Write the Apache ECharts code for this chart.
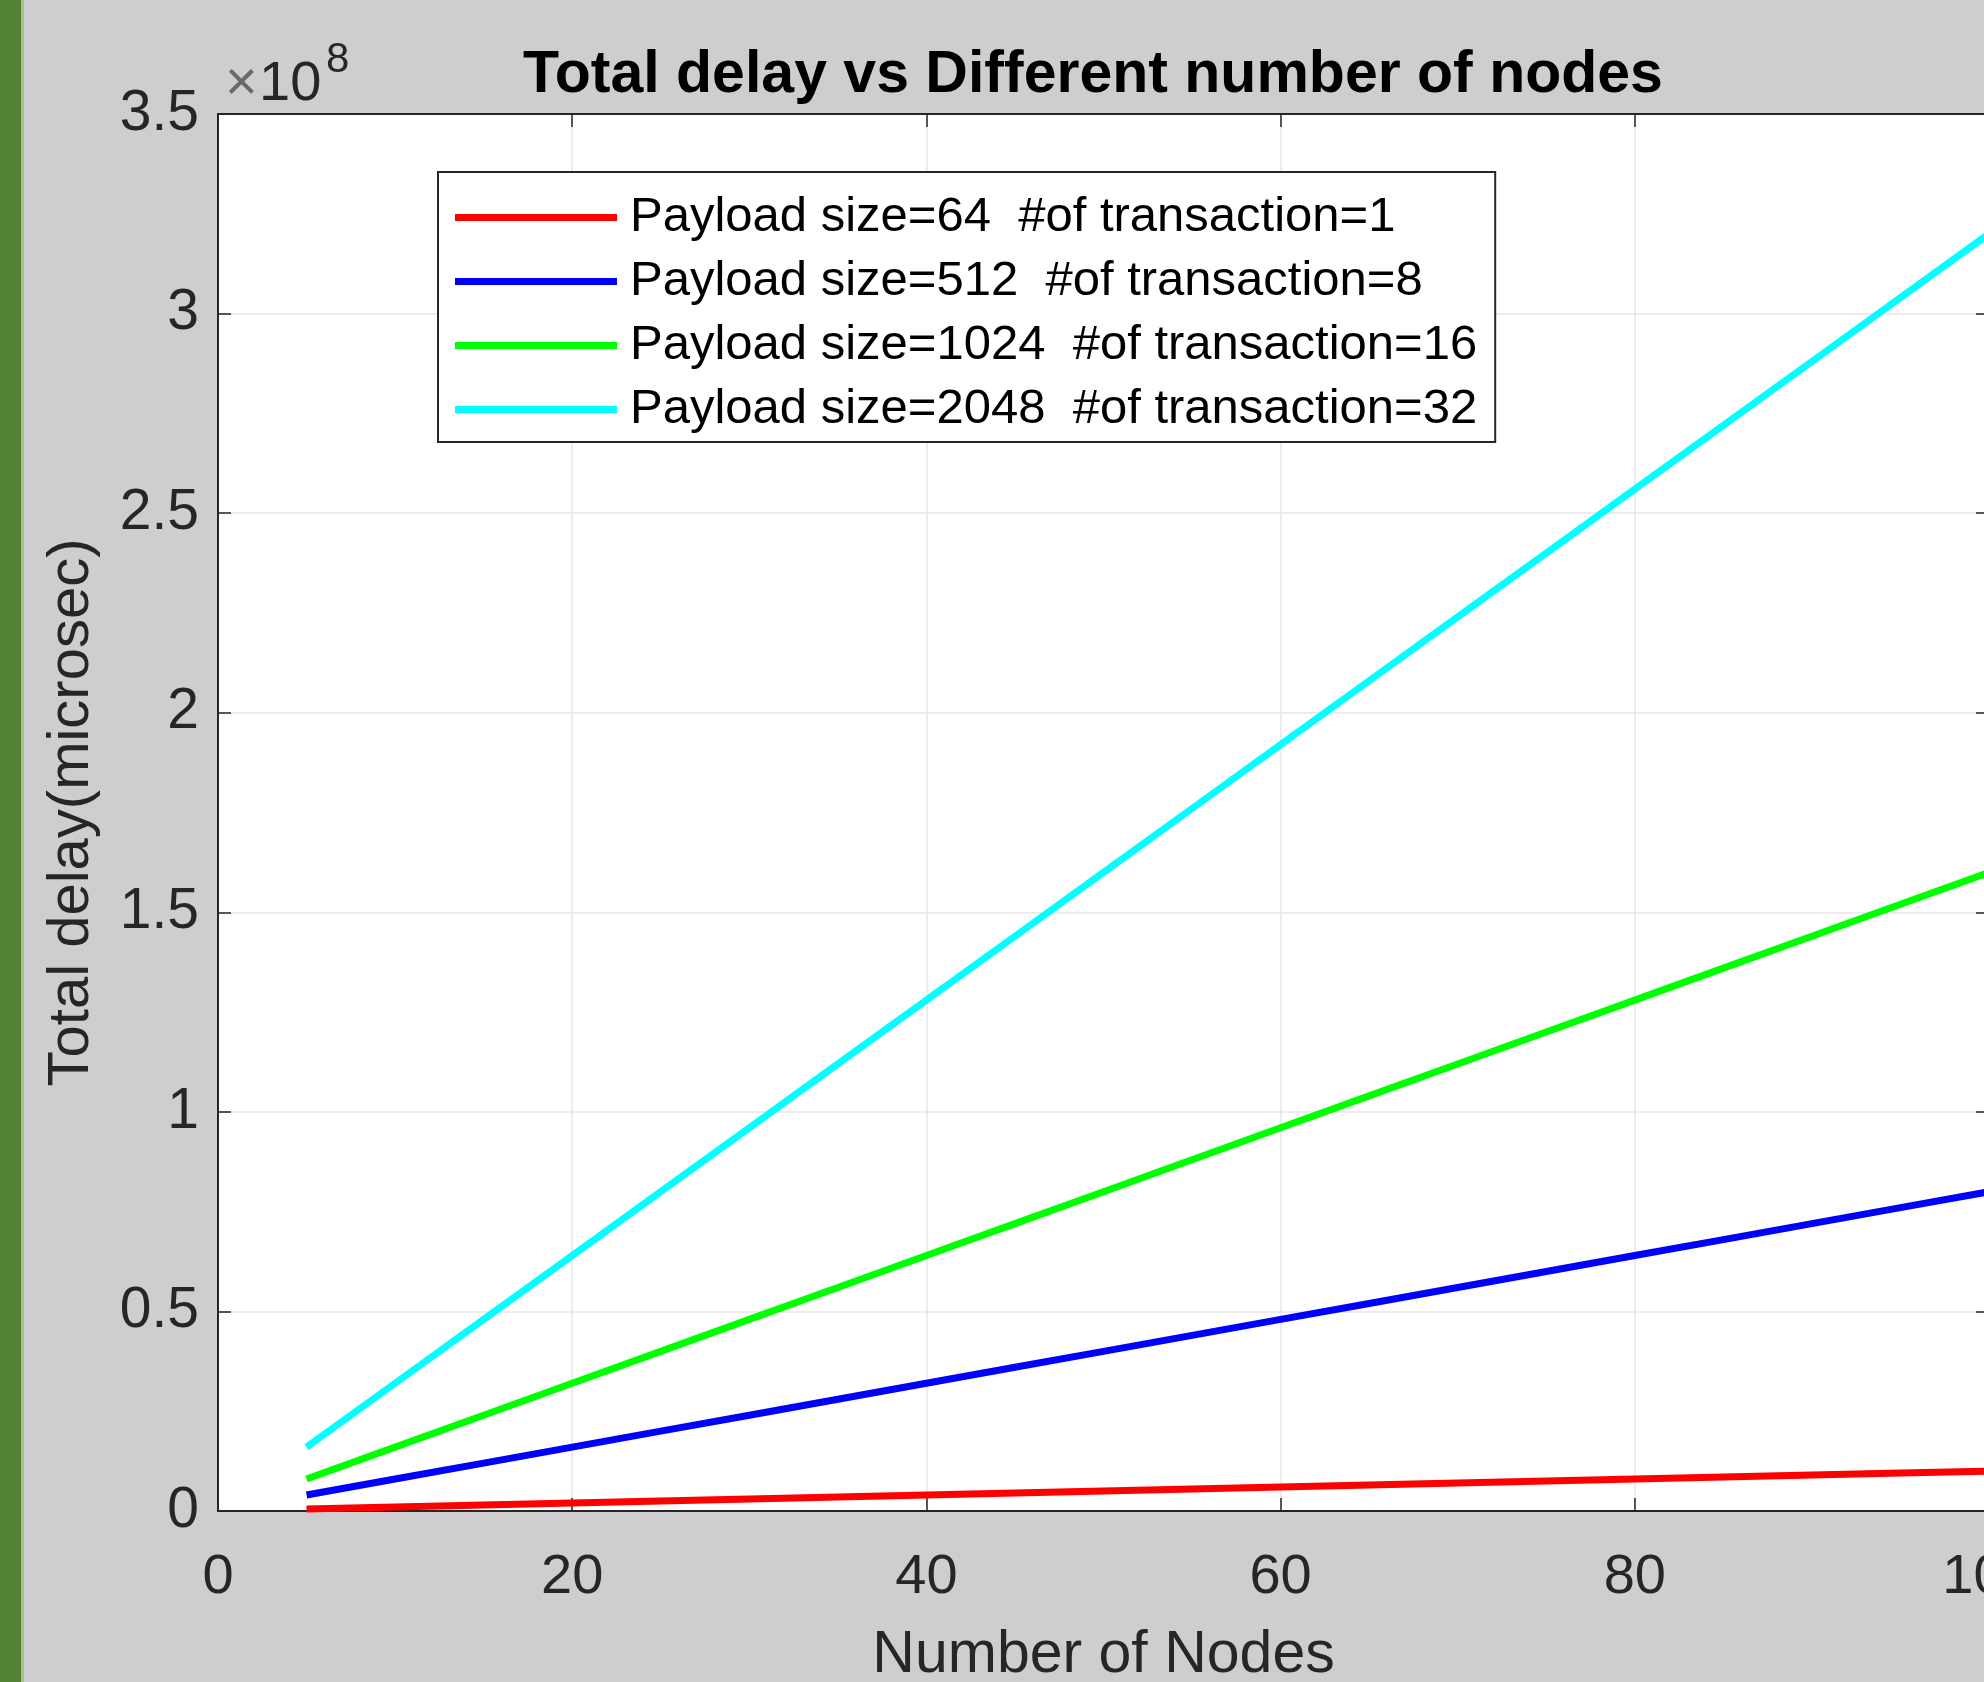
<!DOCTYPE html>
<html>
<head>
<meta charset="utf-8">
<script src="https://cdn.jsdelivr.net/npm/echarts@6/dist/echarts.min.js"></script>
<style>
html,body{margin:0;padding:0;background:#cfcdcf;}
#c{width:1984px;height:1682px;}
</style>
</head>
<body>
<div id="c"></div>
<script>
// ---- data (x: number of nodes, y: total delay in microseconds) ----
const nodes = [5, 10, 15, 20, 25, 30, 35, 40, 45, 50, 55, 60, 65, 70, 75, 80, 85, 90, 95, 100];
const delayPayload64 = [0.5e6, 1.0e6, 1.5e6, 2.0e6, 2.5e6, 3.0e6, 3.5e6, 4.0e6, 4.5e6, 5.0e6,
                        5.5e6, 6.0e6, 6.5e6, 7.0e6, 7.5e6, 8.0e6, 8.5e6, 9.0e6, 9.5e6, 10.0e6];
const delayPayload512 = [4e6, 8e6, 12e6, 16e6, 20e6, 24e6, 28e6, 32e6, 36e6, 40e6,
                         44e6, 48e6, 52e6, 56e6, 60e6, 64e6, 68e6, 72e6, 76e6, 80e6];
const delayPayload1024 = [8e6, 16e6, 24e6, 32e6, 40e6, 48e6, 56e6, 64e6, 72e6, 80e6,
                          88e6, 96e6, 104e6, 112e6, 120e6, 128e6, 136e6, 144e6, 152e6, 160e6];
const delayPayload2048 = [16e6, 32e6, 48e6, 64e6, 80e6, 96e6, 112e6, 128e6, 144e6, 160e6,
                          176e6, 192e6, 208e6, 224e6, 240e6, 256e6, 272e6, 288e6, 304e6, 320e6];
const seriesNames = [
  'Payload size=64  #of transaction=1',
  'Payload size=512  #of transaction=8',
  'Payload size=1024  #of transaction=16',
  'Payload size=2048  #of transaction=32'
];
const seriesValues = [delayPayload64, delayPayload512, delayPayload1024, delayPayload2048];
const seriesColors = ['#ff0000', '#0000ff', '#00ff00', '#00ffff'];
const xTicks = { min: 0, max: 100, step: 20 };
const yTicks = { min: 0, max: 3.5e8, step: 0.5e8 };
const yExponent = 8;

const FONT = '"Liberation Sans", Arial, Helvetica, sans-serif';
const AX = '#262626';

const chart = echarts.init(document.getElementById('c'), null, { renderer: 'canvas' });

const axisLineStyle = { show: true, onZero: false, lineStyle: { color: AX, width: 2 } };
const tickStyle = { show: true, inside: true, length: 13, lineStyle: { color: AX, width: 1.5 } };

const option = {
  backgroundColor: '#cfcdcf',
  animation: false,
  title: {
    text: 'Total delay vs Different number of nodes',
    left: 1093,
    top: 46,
    padding: 0,
    textAlign: 'center',
    textStyle: { fontFamily: FONT, fontWeight: 'bold', fontSize: 59, color: '#000' }
  },
  grid: {
    left: 218, top: 114, width: 1771, bottom: 171,
    outerBoundsMode: 'none',
    containLabel: false,
    show: true, backgroundColor: '#ffffff', borderWidth: 0
  },
  legend: {
    data: seriesNames,
    orient: 'vertical',
    left: 438,
    top: 172,
    padding: [21, 18, 8, 17],
    itemGap: 15,
    itemWidth: 162,
    itemHeight: 7,
    icon: 'rect',
    backgroundColor: '#ffffff',
    borderColor: AX,
    borderWidth: 2,
    borderRadius: 0,
    textStyle: { fontFamily: FONT, fontSize: 49, color: '#000', padding: [0, 0, 0, 8] }
  },
  xAxis: [
    {
      type: 'value', position: 'bottom',
      min: xTicks.min, max: xTicks.max, interval: xTicks.step,
      axisLine: axisLineStyle, axisTick: tickStyle,
      axisLabel: { fontFamily: FONT, fontSize: 56, color: AX, margin: 39 },
      splitLine: { show: true, lineStyle: { color: '#e6e6e6', width: 1.5 } },
      name: 'Number of Nodes', nameLocation: 'middle', nameGap: 115,
      nameTextStyle: { fontFamily: FONT, fontSize: 59, color: AX }
    },
    {
      type: 'value', position: 'top',
      min: xTicks.min, max: xTicks.max, interval: xTicks.step,
      axisLine: axisLineStyle, axisTick: tickStyle,
      axisLabel: { show: false }, splitLine: { show: false }
    }
  ],
  yAxis: [
    {
      type: 'value', position: 'left',
      min: yTicks.min, max: yTicks.max, interval: yTicks.step,
      axisLine: axisLineStyle, axisTick: tickStyle,
      axisLabel: {
        fontFamily: FONT, fontSize: 57, color: AX, margin: 19,
        formatter: v => String(+(v / Math.pow(10, yExponent)).toFixed(2))
      },
      splitLine: { show: true, lineStyle: { color: '#e6e6e6', width: 1.5 } },
      name: 'Total delay(microsec)', nameLocation: 'middle', nameGap: 117,
      nameTextStyle: { fontFamily: FONT, fontSize: 58, color: AX }
    },
    {
      type: 'value', position: 'right',
      min: yTicks.min, max: yTicks.max, interval: yTicks.step,
      axisLine: axisLineStyle, axisTick: tickStyle,
      axisLabel: { show: false }, splitLine: { show: false }
    }
  ],
  series: seriesNames.map((name, i) => ({
    name: name,
    type: 'line',
    xAxisIndex: 0,
    yAxisIndex: 0,
    data: nodes.map((n, j) => [n, seriesValues[i][j]]),
    symbol: 'none',
    color: seriesColors[i],
    lineStyle: { color: seriesColors[i], width: 7 },
    z: 3
  })),
  graphic: [
    { type: 'rect', shape: { x: 0, y: 0, width: 21, height: 1682 }, style: { fill: '#548235' }, z: 100 },
    { type: 'rect', shape: { x: 21, y: 0, width: 3, height: 1682 }, style: { fill: '#a3c28c' }, z: 100 },
    { type: 'text', x: 225, y: 85, style: { text: '×', font: '56px ' + FONT, fill: '#6a6a6a', verticalAlign: 'middle' }, z: 100 },
    { type: 'text', x: 259, y: 85, style: { text: '10', font: '56px ' + FONT, fill: AX, verticalAlign: 'middle' }, z: 100 },
    { type: 'text', x: 326, y: 60, style: { text: String(yExponent), font: '42px ' + FONT, fill: AX, verticalAlign: 'middle' }, z: 100 }
  ]
};

chart.setOption(option);
</script>
</body>
</html>
